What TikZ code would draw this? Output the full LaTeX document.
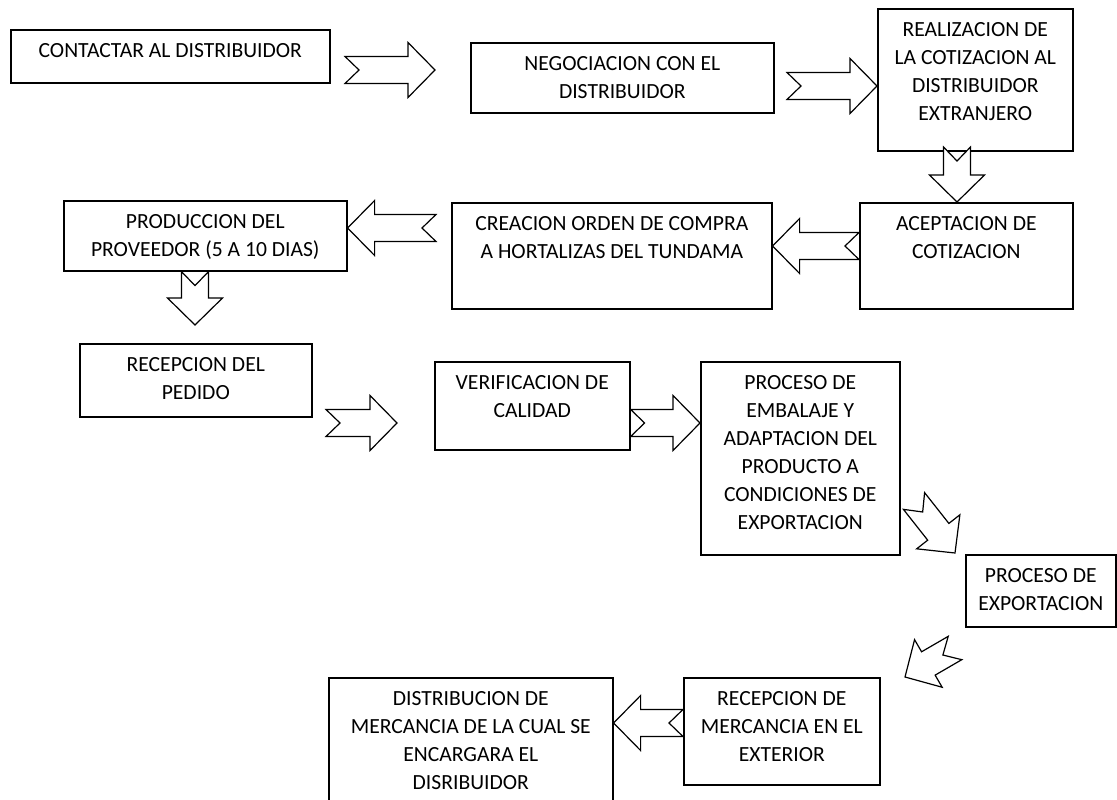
\documentclass[tikz,border=0pt]{standalone}
\usepackage{fontspec}
\setmainfont{Carlito}
\usetikzlibrary{calc}
\tikzset{
	x=1pt, y=-1pt, % one unit is one pixel of the page, y runs down
	stepbox/.style={draw, line width=1.6pt, inner sep=0pt, anchor=north west}, % sets the properties for each box
	blockarrow/.style={draw, line width=1.2pt, fill=white, line join=miter}, % the hollow notched arrows
}
% box text: width, height, lines (first baseline 28pt below the top)
\newcommand{\stepbody}[3]{\parbox[c][#2][t]{#1}{\centering\fontsize{21.6}{28}\selectfont\rule{0pt}{28pt}#3}}
% notched block arrow from tail #1 to tip #2
\newcommand{\notcharrow}[2]{%
	\coordinate (hb) at ($(#2)!27pt!(#1)$);
	\draw[blockarrow] ($(#1)!13.5pt!90:(#2)$) -- ($(hb)!13.5pt!-90:(#1)$) -- ($(hb)!27.5pt!-90:(#1)$) -- (#2)
		-- ($(hb)!27.5pt!90:(#1)$) -- ($(hb)!13.5pt!90:(#1)$) -- ($(#1)!13.5pt!-90:(#2)$) -- ($(#1)!14pt!(#2)$) -- cycle;
}

\begin{document}
\begin{tikzpicture}
	\useasboundingbox (0,0) rectangle (1117,800);
	\clip (0,0) rectangle (1117,800);
	% the steps
	\node[stepbox] (contactar) at (10,29) {\stepbody{319pt}{53pt}{CONTACTAR AL DISTRIBUIDOR}};
	\node[stepbox] (negociacion) at (470,42) {\stepbody{303pt}{70pt}{NEGOCIACION CON EL\\DISTRIBUIDOR}};
	\node[stepbox] (realizacion) at (877,8) {\stepbody{195pt}{142pt}{REALIZACION DE\\LA COTIZACION AL\\DISTRIBUIDOR\\EXTRANJERO}};
	\node[stepbox] (aceptacion) at (859,202) {\stepbody{213pt}{106pt}{ACEPTACION DE\\COTIZACION}};
	\node[stepbox] (creacion) at (451,202) {\stepbody{320pt}{106pt}{CREACION ORDEN DE COMPRA\\A HORTALIZAS DEL TUNDAMA}};
	\node[stepbox] (produccion) at (63,200) {\stepbody{283pt}{70pt}{PRODUCCION DEL\\PROVEEDOR (5 A 10 DIAS)}};
	\node[stepbox] (recepcion) at (79,343) {\stepbody{232pt}{73pt}{RECEPCION DEL\\PEDIDO}};
	\node[stepbox] (verificacion) at (434,361) {\stepbody{195pt}{88pt}{VERIFICACION DE\\CALIDAD}};
	\node[stepbox] (embalaje) at (700,361) {\stepbody{199pt}{193pt}{PROCESO DE\\EMBALAJE Y\\ADAPTACION DEL\\PRODUCTO A\\CONDICIONES DE\\EXPORTACION}};
	\node[stepbox] (exportacion) at (965,554) {\stepbody{150pt}{72pt}{PROCESO DE\\EXPORTACION}};
	\node[stepbox] (mercancia) at (683,677) {\stepbody{196pt}{107pt}{RECEPCION DE\\MERCANCIA EN EL\\EXTERIOR}};
	\node[stepbox] (distribucion) at (328,677) {\stepbody{284pt}{140pt}{DISTRIBUCION DE\\MERCANCIA DE LA CUAL SE\\ENCARGARA EL\\DISRIBUIDOR}};
	% ends of the arrows
	\coordinate (tail1) at (345,70);   \coordinate (tip1) at (435,70);
	\coordinate (tail2) at (787,86);   \coordinate (tip2) at (realizacion.west |- 0,86);
	\coordinate (tail3) at (957,147);  \coordinate (tip3) at (aceptacion.north -| 957,0);
	\coordinate (tail4) at (aceptacion.west |- 0,246); \coordinate (tip4) at (creacion.east |- 0,246);
	\coordinate (tail5) at (436,228);  \coordinate (tip5) at (produccion.east |- 0,228);
	\coordinate (tail6) at (produccion.south -| 195,0); \coordinate (tip6) at (195,325);
	\coordinate (tail7) at (326,423);  \coordinate (tip7) at (397,423);
	\coordinate (tail8) at (verificacion.east |- 0,423); \coordinate (tip8) at (embalaje.west |- 0,423);
	\coordinate (tail9) at (914,501);  \coordinate (tip9) at (955,553);
	\coordinate (tail10) at (955,648); \coordinate (tip10) at (905,677);
	\coordinate (tail11) at (mercancia.west |- 0,723); \coordinate (tip11) at (distribucion.east |- 0,723);
	\foreach \i in {1,...,11} {\notcharrow{tail\i}{tip\i}}
\end{tikzpicture}
\end{document}
